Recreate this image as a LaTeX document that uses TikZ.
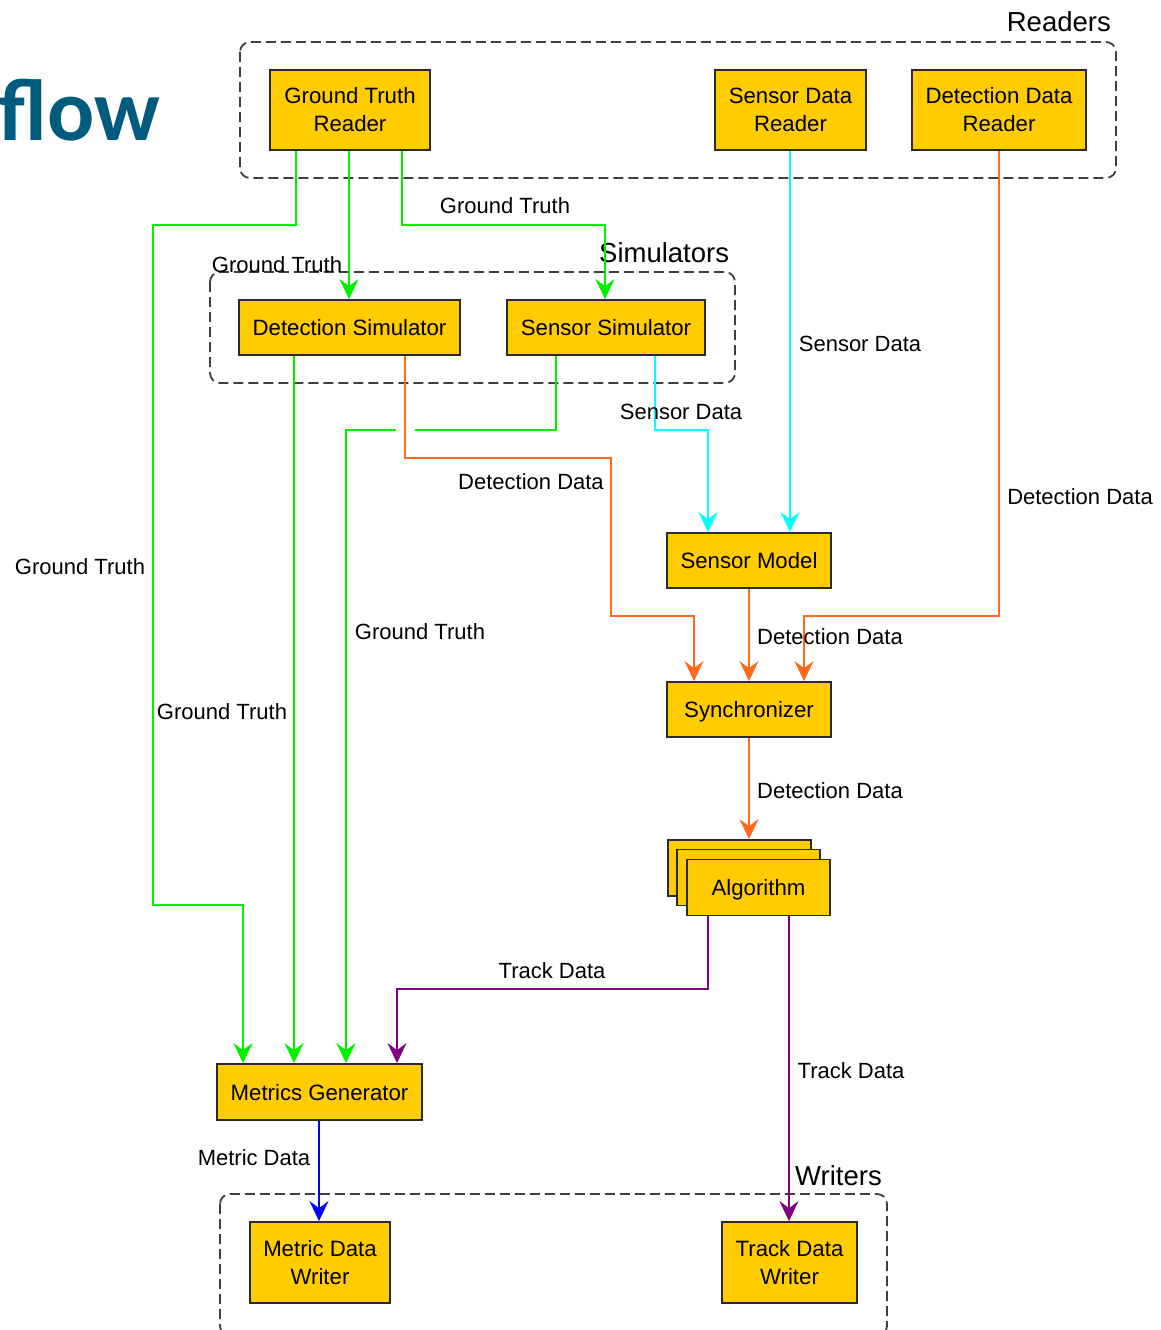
\documentclass[tikz,border=0pt]{standalone}
\usepackage{fontspec}
\setmainfont{Liberation Sans}
\newfontfamily\headfont{Carlito}
\usetikzlibrary{arrows.meta}
\definecolor{boxfill}{HTML}{FFCC00}
\definecolor{boxline}{HTML}{2A2A2A}
\definecolor{gtgreen}{HTML}{00F000}
\definecolor{ddorange}{HTML}{FF6A1C}
\definecolor{sdcyan}{HTML}{00FFFF}
\definecolor{tdpurple}{HTML}{800080}
\definecolor{mdblue}{HTML}{0000FF}
\definecolor{headblue}{HTML}{005B7F}
\begin{document}
\begin{tikzpicture}[x=1pt,y=-1pt,
  block/.style={draw=boxline, fill=boxfill, line width=1.8pt, inner sep=0pt,
    font=\fontsize{22.2}{28}\selectfont, align=center},
  oneline/.style={block, text height=16pt, text depth=0pt},
  group/.style={draw=boxline!90, line width=1.8pt, dash pattern=on 10pt off 5pt, rounded corners=10pt},
  grouptitle/.style={font=\fontsize{27.5}{30}\selectfont, inner sep=0pt},
  lbl/.style={font=\fontsize{22}{26}\selectfont, inner sep=0pt, anchor=base},
  flowline/.style={line width=2pt, -{Stealth[length=20pt,width=19pt,inset=7pt]}},
  gt/.style={flowline, draw=gtgreen},
  dd/.style={flowline, draw=ddorange},
  sd/.style={flowline, draw=sdcyan},
  td/.style={flowline, draw=tdpurple},
  md/.style={flowline, draw=mdblue},
  plain/.style={line width=2pt}
]
\clip (0,0) rectangle (1161,1330);
\fill[white] (0,0) rectangle (1161,1330);

% slide heading fragment
\node[anchor=base east, inner sep=0pt, text=headblue,
  font=\headfont\bfseries\fontsize{88}{90}\selectfont] (heading) at (160,140) {flow};

% groups
\draw[group] (240,42) rectangle (1116,178);
\node[grouptitle, anchor=base east] (readers) at (1111,32) {Readers};
\draw[group] (210,272) rectangle (735,383);
\node[grouptitle, anchor=base west] (simulators) at (599,262) {Simulators};
\draw[group] (220,1194) rectangle (887,1336);
\node[grouptitle, anchor=base west] (writers) at (795,1185) {Writers};

% readers
\node[block, minimum width=160pt, minimum height=80pt] (gtr) at (350,110) {Ground Truth\\Reader};
\node[block, minimum width=151pt, minimum height=80pt] (sdr) at (790.5,110) {Sensor Data\\Reader};
\node[block, minimum width=174pt, minimum height=80pt] (ddr) at (999,110) {Detection Data\\Reader};

% simulators
\node[oneline, minimum width=221pt, minimum height=55pt] (dsim) at (349.5,327.5) {Detection Simulator};
\node[oneline, minimum width=198pt, minimum height=55pt] (ssim) at (606,327.5) {Sensor Simulator};

% processing chain
\node[oneline, minimum width=164pt, minimum height=55pt] (smod) at (749,560.5) {Sensor Model};
\node[oneline, minimum width=164pt, minimum height=55pt] (sync) at (749,709.5) {Synchronizer};
\node[oneline, minimum width=143pt, minimum height=56pt] (algc) at (739.5,868) {};
\node[oneline, minimum width=143pt, minimum height=56pt] (algb) at (748.5,877.5) {};
\node[oneline, minimum width=143pt, minimum height=56pt] (alg) at (758.5,887.5) {Algorithm};
\node[oneline, minimum width=205pt, minimum height=56pt] (mg) at (319.5,1092) {Metrics Generator};

% writers
\node[block, minimum width=140pt, minimum height=81pt] (mdw) at (320,1262.5) {Metric Data\\Writer};
\node[block, minimum width=135pt, minimum height=81pt] (tdw) at (789.5,1262.5) {Track Data\\Writer};

% ground truth connectors
\draw[gt] (gtr.south -| 296,0) -- (296,225) -- (153,225) -- (153,905) -- (243,905) -- (mg.north -| 243,0);
\draw[gt] (gtr.south -| 349,0) -- (dsim.north -| 349,0);
\draw[gt] (gtr.south -| 402,0) -- (402,225) -- (605,225) -- (ssim.north -| 605,0);
\draw[gt] (dsim.south -| 294,0) -- (mg.north -| 294,0);
\coordinate (hopR) at (415,430);
\coordinate (hopL) at (396,430);
\draw[plain, gtgreen] (ssim.south -| 556,0) -- (556,430) -- (hopR);
\draw[gt] (hopL) -- (346,430) -- (mg.north -| 346,0);

% detection data connectors
\draw[dd] (dsim.south -| 405,0) -- (405,458) -- (611,458) -- (611,616) -- (694,616) -- (sync.north -| 694,0);
\draw[dd] (smod.south -| 749,0) -- (sync.north -| 749,0);
\draw[dd] (ddr.south -| 999,0) -- (999,616) -- (804,616) -- (sync.north -| 804,0);
\draw[dd] (sync.south -| 749,0) -- (algc.north -| 749,0);

% sensor data connectors
\draw[sd] (ssim.south -| 655,0) -- (655,430) -- (708,430) -- (smod.north -| 708,0);
\draw[sd] (sdr.south -| 790,0) -- (smod.north -| 790,0);

% track data connectors
\draw[td] (alg.south -| 708,0) -- (708,989) -- (397,989) -- (mg.north -| 397,0);
\draw[td] (alg.south -| 789,0) -- (tdw.north -| 789,0);

% metric data connector
\draw[md] (mg.south -| 319,0) -- (mdw.north -| 319,0);

% connector labels
\node[lbl] (l1) at (505,213) {Ground Truth};
\node[lbl] (l2) at (277,272) {Ground Truth};
\node[lbl] (l3) at (80,574) {Ground Truth};
\node[lbl] (l4) at (222,719) {Ground Truth};
\node[lbl] (l5) at (420,639) {Ground Truth};
\node[lbl] (l6) at (860,351) {Sensor Data};
\node[lbl] (l7) at (681,419) {Sensor Data};
\node[lbl] (l8) at (531,489) {Detection Data};
\node[lbl] (l9) at (830,644) {Detection Data};
\node[lbl] (l10) at (1080,504) {Detection Data};
\node[lbl] (l11) at (830,798) {Detection Data};
\node[lbl] (l12) at (552,978) {Track Data};
\node[lbl] (l13) at (851,1078) {Track Data};
\node[lbl] (l14) at (254,1165) {Metric Data};
\end{tikzpicture}
\end{document}
